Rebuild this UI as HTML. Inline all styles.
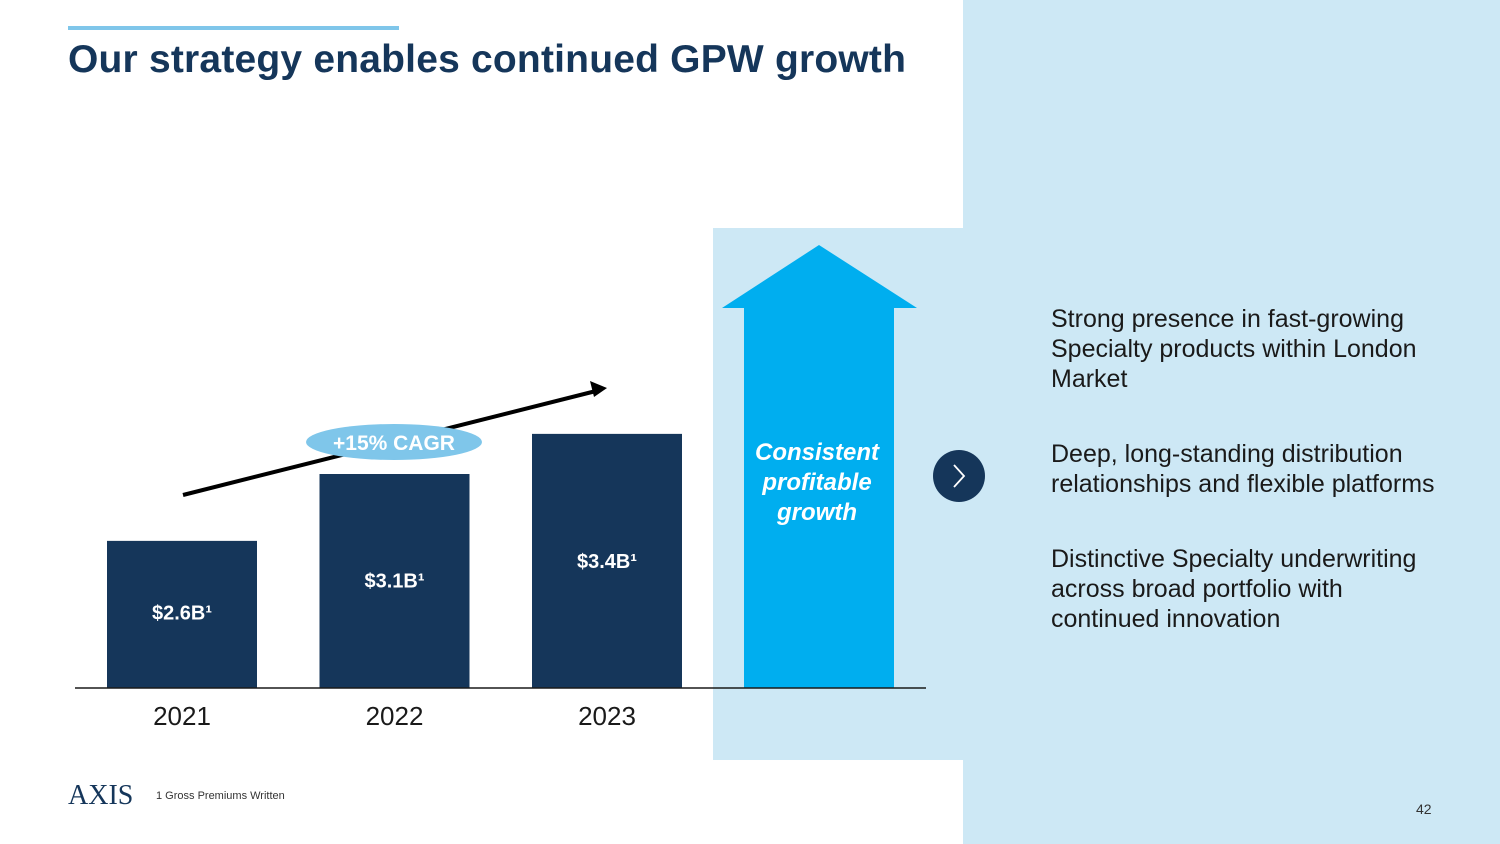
<!DOCTYPE html>
<html><head><meta charset="utf-8"><style>
body{margin:0;width:1500px;height:844px;position:relative;overflow:hidden;background:#fff;font-family:"Liberation Sans","DejaVu Sans",sans-serif}
.a{position:absolute}
.rt{font-size:25px;color:#1a1a1a;line-height:30px;left:1051px;width:395px}
</style></head><body>
<div class="a" style="left:963px;top:0;width:537px;height:844px;background:#cde8f5"></div>
<div class="a" style="left:713px;top:228px;width:250px;height:532px;background:#cde8f5"></div>
<div class="a" style="left:68px;top:26px;width:331px;height:4px;background:#7fc6ea"></div>
<div class="a" style="left:68px;top:38px;font-size:39px;font-weight:bold;color:#15365a;letter-spacing:0.2px">Our strategy enables continued GPW growth</div>
<svg class="a" style="left:0;top:0" width="1500" height="844">
<polygon points="744,688 744,308 722,308 819,245 917,308 894,308 894,688" fill="#00aeef"/>
<g id="bars"></g>
<line x1="75" y1="688" x2="926" y2="688" stroke="#1a1a1a" stroke-width="1.5"/>
<line x1="183" y1="495" x2="596" y2="391" stroke="#000" stroke-width="4"/>
<polygon points="607,388 590,381 594,397" fill="#000"/>
<ellipse cx="394" cy="442" rx="88" ry="18" fill="#7fc6ea"/>
<text x="394" y="450" text-anchor="middle" font-size="21" font-weight="bold" fill="#fff" font-family="Liberation Sans, sans-serif">+15% CAGR</text>
<text x="817" y="460" text-anchor="middle" font-size="24" font-weight="bold" font-style="italic" fill="#fff" font-family="Liberation Sans, sans-serif">Consistent</text>
<text x="817" y="490" text-anchor="middle" font-size="24" font-weight="bold" font-style="italic" fill="#fff" font-family="Liberation Sans, sans-serif">profitable</text>
<text x="817" y="520" text-anchor="middle" font-size="24" font-weight="bold" font-style="italic" fill="#fff" font-family="Liberation Sans, sans-serif">growth</text>
<circle cx="959" cy="476" r="26" fill="#15365a"/>
<polyline points="954,465 964,476 954,487" fill="none" stroke="#fff" stroke-width="1.8"/>
</svg>
<div class="a rt" style="top:304px">Strong presence in fast-growing Specialty products within London Market</div>
<div class="a rt" style="top:439px;width:420px">Deep, long-standing distribution relationships and flexible platforms</div>
<div class="a rt" style="top:544px;width:380px">Distinctive Specialty underwriting across broad portfolio with continued innovation</div>
<div class="a" style="left:68px;top:780px;font-family:'Liberation Serif',serif;font-size:28px;color:#15365a">AXIS</div>
<div class="a" style="left:156px;top:790px;font-size:11px;color:#333">1 Gross Premiums Written</div>
<div class="a" style="left:1416px;top:801px;font-size:14px;color:#333">42</div>
<script>
const categories=["2021","2022","2023"];
const values=[2.6,3.1,3.4];
const labels=["$2.6B¹","$3.1B¹","$3.4B¹"];
const NS="http://www.w3.org/2000/svg";
const g=document.getElementById('bars');
const base=688,yMin=1.5,pxPer=133.75;
function y(v){return base-(v-yMin)*pxPer;}
function x(i){return 107+i*212.5;}
categories.forEach((c,i)=>{
 const r=document.createElementNS(NS,'rect');
 
 
 r.setAttribute('x',x(i));r.setAttribute('y',y(values[i]));r.setAttribute('width',150);r.setAttribute('height',base-y(values[i]));r.setAttribute('fill','#15365a');g.appendChild(r);
 const t=document.createElementNS(NS,'text');
 
 
 t.setAttribute('x',x(i)+75);t.setAttribute('y',y(values[i])+(base-y(values[i]))*0.52+2);t.setAttribute('text-anchor','middle');t.setAttribute('font-size','20');t.setAttribute('font-weight','bold');t.setAttribute('fill','#fff');t.textContent=labels[i];g.appendChild(t);
 const l=document.createElementNS(NS,'text');
 
 
 l.setAttribute('x',x(i)+75);l.setAttribute('y',725);l.setAttribute('text-anchor','middle');l.setAttribute('font-size','26');l.setAttribute('fill','#1a1a1a');l.textContent=c;g.appendChild(l);
});
</script>
</body></html>
